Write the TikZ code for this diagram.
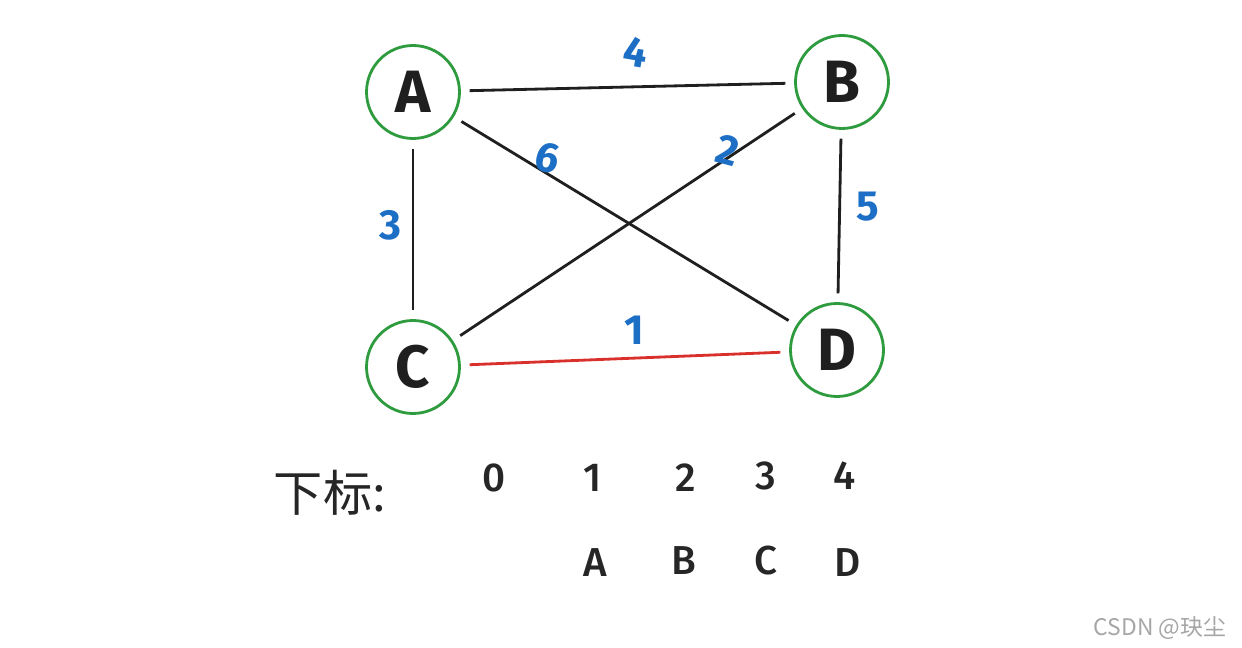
\documentclass[tikz,border=0pt]{standalone}
\usepackage{fontspec}
\setmainfont{Fira Sans}
\newfontfamily\medfont{Fira Sans Medium}
\newfontfamily\cjk{Noto Sans CJK SC}
\definecolor{ngreen}{HTML}{2E9B3E}
\definecolor{nblue}{HTML}{1C6FC4}
\definecolor{nred}{HTML}{D9302C}
\begin{document}
\begin{tikzpicture}[x=0.02cm,y=-0.02cm,
 vtx/.style={circle,draw=ngreen,line width=1.6pt,minimum size=1.86cm,inner sep=0,font=\fontsize{34}{34}\selectfont\bfseries,text=black!88},
 wt/.style={text=nblue,font=\fontsize{24}{24}\selectfont\bfseries},
 edge/.style={line width=1.6pt,black!88,shorten <=5pt,shorten >=5pt},
 idx/.style={font=\medfont\fontsize{23}{23}\selectfont,text=black!85}]
\useasboundingbox (0,0) rectangle (1242,648);
\node[vtx] (A) at (413,92) {A};
\node[vtx] (B) at (842,82) {B};
\node[vtx] (C) at (413,367) {C};
\node[vtx] (D) at (837,350) {D};
\draw[edge] (A) -- (B);
\draw[edge] (A) -- (D);
\draw[edge] (B) -- (C);
\draw[edge] (A) -- (C);
\draw[edge] (B) -- (D);
\draw[edge,nred] (C) -- (D);
\node[wt,rotate=-10] (w4) at (636,52) {4};
\node[wt,rotate=-15] (w6) at (548,158) {6};
\node[wt,rotate=-15] (w2) at (728,150) {2};
\node[wt] (w3) at (390,225) {3};
\node[wt] (w5) at (868,207) {5};
\node[wt] (w1) at (634,330) {1};
\node[font=\cjk\fontsize{28}{28}\selectfont,text=black!85] (lbl) at (330,493) {下标:};
\node[idx] (i0) at (494,478) {0};
\node[idx] (i1) at (593,478) {1};
\node[idx] (i2) at (686,478) {2};
\node[idx] (i3) at (766,476) {3};
\node[idx] (i4) at (845,476) {4};
\node[idx] (lA) at (595,563) {A};
\node[idx] (lB) at (684,561) {B};
\node[idx] (lC) at (766,561) {C};
\node[idx] (lD) at (848,563) {D};
\node[font=\cjk\fontsize{13}{13}\selectfont,text=black!35] (wm) at (1160,628) {CSDN @玦尘};
\end{tikzpicture}
\end{document}
